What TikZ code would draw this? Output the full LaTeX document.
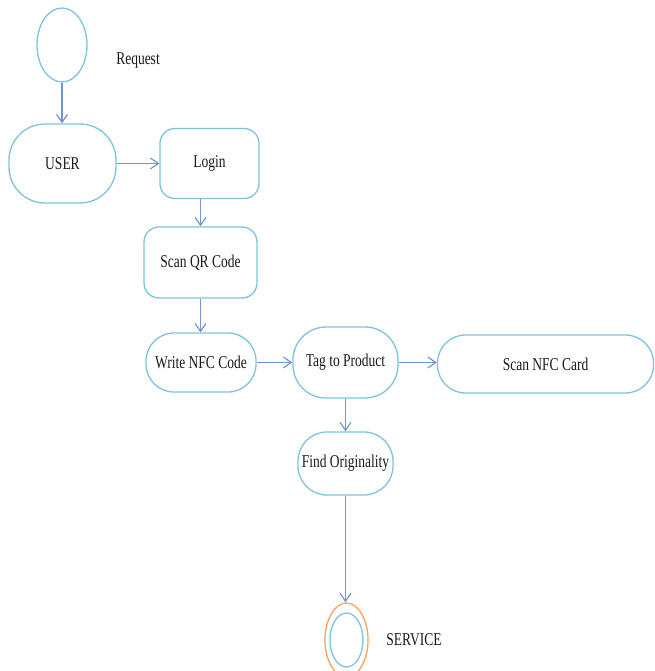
\documentclass[tikz,border=0pt]{standalone}
\usepackage{fontspec}
\setmainfont[FakeStretch=0.75]{Liberation Serif}
\usetikzlibrary{arrows.meta,shapes.geometric}
\definecolor{nodeblue}{RGB}{125,196,218}
\definecolor{arrblue}{RGB}{115,150,210}
\definecolor{ringorange}{RGB}{245,165,95}
\definecolor{txt}{RGB}{25,25,25}
\tikzset{
  box/.style={draw=nodeblue, line width=1.3pt, inner sep=0pt, align=center, text=txt, font=\fontsize{18}{21}\selectfont},
  arr/.style={draw=arrblue, line width=1.5pt, -{Straight Barb[length=8pt,width=11pt,line width=1.2pt]}},
  oval/.style={ellipse, draw=nodeblue, line width=1.3pt, inner sep=0pt},
  lbl/.style={text=txt, font=\fontsize{18}{21}\selectfont}
}
\begin{document}
\begin{tikzpicture}[x=1pt,y=-1pt]
\useasboundingbox (0,0) rectangle (654,671);
\node[oval, minimum width=50pt, minimum height=74pt] (req) at (62,45) {};
\node[lbl] (reqlbl) at (138,61) {Request};
\node[box, minimum width=107pt, minimum height=79pt, rounded corners=36pt] (user) at (62.5,163.5) {USER};
\node[box, minimum width=99pt, minimum height=70pt, rounded corners=15pt] (login) at (209.5,163.5) {Login};
\node[box, minimum width=113pt, minimum height=71pt, rounded corners=15pt] (scanqr) at (200.5,262.5) {Scan QR Code};
\node[box, minimum width=110pt, minimum height=59pt, rounded corners=28pt] (write) at (201,362.5) {Write NFC Code};
\node[box, minimum width=105pt, minimum height=71pt, rounded corners=33pt] (tag) at (345.5,362.5) {Tag to Product};
\node[box, minimum width=216pt, minimum height=58pt, rounded corners=28pt] (scannfc) at (545.5,364) {Scan NFC Card};
\node[box, minimum width=95pt, minimum height=63pt, rounded corners=29pt] (find) at (345.5,463.5) {Find Originality};
\node[ellipse, draw=ringorange, line width=1.3pt, inner sep=0pt, minimum width=43pt, minimum height=74pt] (svc) at (346.5,640) {};
\node[oval, minimum width=33pt, minimum height=54pt] (svcin) at (346.5,640) {};
\node[lbl] (svclbl) at (414,640) {SERVICE};
\draw[arr] (req.south) -- (user.north -| req.south);
\draw[arr] (user.east) -- (login.west);
\draw[arr] (scanqr.north |- login.south) -- (scanqr.north);
\draw[arr] (scanqr.south) -- (write.north -| scanqr.south);
\draw[arr] (write.east) -- (tag.west);
\draw[arr] (tag.east) -- (tag.east -| scannfc.west);
\draw[arr] (tag.south) -- (find.north);
\draw[arr] (find.south) -- (svc.north -| find.south);
\end{tikzpicture}
\end{document}
